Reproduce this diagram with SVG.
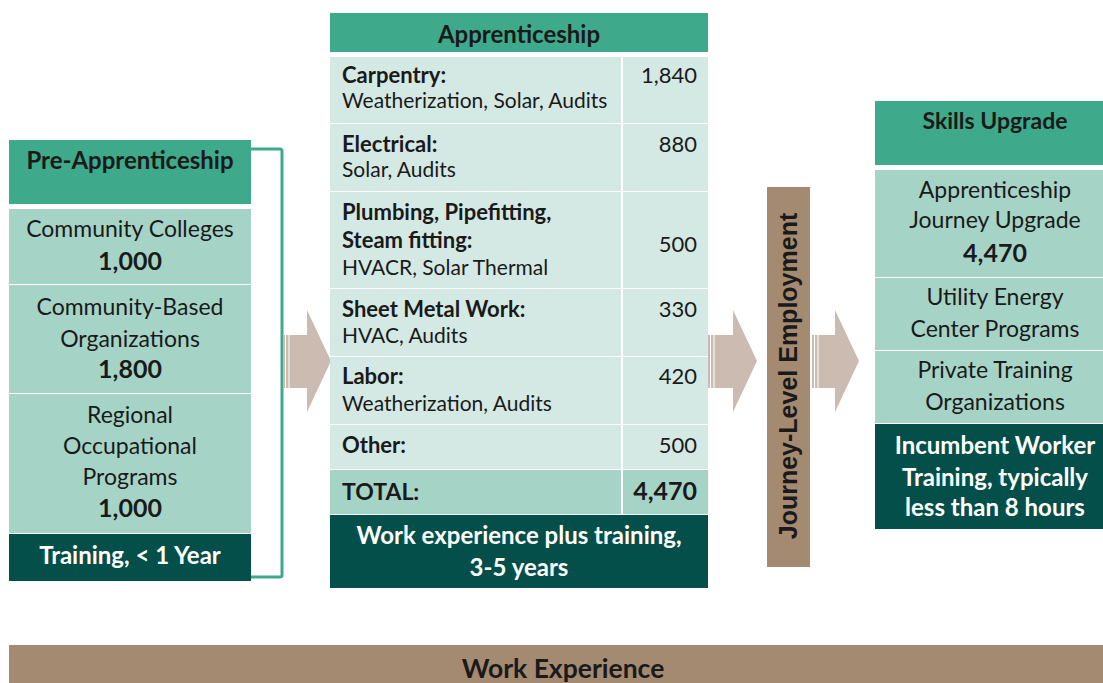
<svg xmlns="http://www.w3.org/2000/svg" width="1103" height="683" viewBox="0 0 1103 683">
<style>
text{font-family:Lato,"Open Sans",sans-serif;fill:#1a1a1a}
.c{text-anchor:middle}
.r{text-anchor:end}
.b{font-weight:bold}
.w{fill:#fff;font-weight:bold}
.s23{font-size:23px}
.s25{font-size:25px}
.s21{font-size:21px}
.s22{font-size:22px}
.s24{font-size:24px}
.hd{fill:#3fa98c}
.lt{fill:#a5d4c7}
.pl{fill:#d4e9e4}
.dk{fill:#044f49}
.br{fill:#a58a72}
.ar{fill:#cbbbb0}
</style>

<!-- flow arrows and bracket -->
<g id="connectors">
  <path d="M251,149 H280 Q282,149 282,151 V575 Q282,577 280,577 H251" fill="none" stroke="#3fa98c" stroke-width="3"/>
  <g class="ar">
    <rect x="283" y="335" width="2" height="53"/>
    <rect x="286" y="335" width="2.5" height="53"/>
    <path d="M289.5,335 H307 V310 L331,361 L307,412 V388 H289.5 Z"/>
    <rect x="708" y="335" width="2" height="53"/>
    <rect x="711" y="335" width="2.5" height="53"/>
    <path d="M714.5,335 H733 V310 L757,361 L733,412 V388 H714.5 Z"/>
    <rect x="812" y="335" width="2" height="53"/>
    <rect x="815" y="335" width="2.5" height="53"/>
    <path d="M818.5,335 H835 V310 L859,361 L835,412 V388 H818.5 Z"/>
  </g>
</g>

<!-- pre-apprenticeship column -->
<g id="pre-apprenticeship">
  <rect class="hd" x="9" y="140" width="242" height="64"/>
  <text class="c b s24" x="130" y="169">Pre-Apprenticeship</text>
  <rect class="lt" x="9" y="209" width="242" height="75"/>
  <text class="c s23" x="130" y="237">Community Colleges</text>
  <text class="c b s25" x="130" y="270">1,000</text>
  <rect class="lt" x="9" y="285" width="242" height="108"/>
  <text class="c s23" x="130" y="315">Community-Based</text>
  <text class="c s23" x="130" y="347">Organizations</text>
  <text class="c b s25" x="130" y="378">1,800</text>
  <rect class="lt" x="9" y="394" width="242" height="139"/>
  <text class="c s23" x="130" y="423">Regional</text>
  <text class="c s23" x="130" y="454">Occupational</text>
  <text class="c s23" x="130" y="485">Programs</text>
  <text class="c b s25" x="130" y="517">1,000</text>
  <rect class="dk" x="9" y="534" width="242" height="47"/>
  <text class="c w s24" x="130" y="564">Training, &lt; 1 Year</text>
</g>

<!-- apprenticeship table -->
<g id="apprenticeship">
  <rect class="hd" x="330" y="13" width="378" height="39"/>
  <text class="c b s24" x="519" y="43">Apprenticeship</text>
  <g class="pl">
    <rect x="330" y="57" width="291" height="66"/><rect x="623" y="57" width="85" height="66"/>
    <rect x="330" y="124" width="291" height="67"/><rect x="623" y="124" width="85" height="67"/>
    <rect x="330" y="192" width="291" height="96"/><rect x="623" y="192" width="85" height="96"/>
    <rect x="330" y="289" width="291" height="67"/><rect x="623" y="289" width="85" height="67"/>
    <rect x="330" y="357" width="291" height="67"/><rect x="623" y="357" width="85" height="67"/>
    <rect x="330" y="425" width="291" height="44"/><rect x="623" y="425" width="85" height="44"/>
  </g>
  <rect class="lt" x="330" y="470" width="291" height="44"/><rect class="lt" x="623" y="470" width="85" height="44"/>
  <rect class="dk" x="330" y="515" width="378" height="73"/>

  <text class="b s22" x="342" y="83">Carpentry:</text>
  <text class="s21" x="342" y="108">Weatherization, Solar, Audits</text>
  <text class="r s22" x="697" y="83">1,840</text>

  <text class="b s22" x="342" y="152">Electrical:</text>
  <text class="s21" x="342" y="177">Solar, Audits</text>
  <text class="r s22" x="697" y="152">880</text>

  <text class="b s22" x="342" y="220">Plumbing, Pipefitting,</text>
  <text class="b s22" x="342" y="248">Steam fitting:</text>
  <text class="s21" x="342" y="275">HVACR, Solar Thermal</text>
  <text class="r s22" x="697" y="252">500</text>

  <text class="b s22" x="342" y="317">Sheet Metal Work:</text>
  <text class="s21" x="342" y="343">HVAC, Audits</text>
  <text class="r s22" x="697" y="317">330</text>

  <text class="b s22" x="342" y="384">Labor:</text>
  <text class="s21" x="342" y="411">Weatherization, Audits</text>
  <text class="r s22" x="697" y="384">420</text>

  <text class="b s22" x="342" y="453">Other:</text>
  <text class="r s22" x="697" y="453">500</text>

  <text class="b s23" x="342" y="500">TOTAL:</text>
  <text class="r b s25" x="697" y="500">4,470</text>

  <text class="c w s24" x="519" y="544">Work experience plus training,</text>
  <text class="c w s24" x="519" y="576">3-5 years</text>
</g>

<!-- journey-level employment bar -->
<g id="journey-level">
  <rect class="br" x="767" y="187" width="43" height="380"/>
  <text class="c" transform="translate(797,376) rotate(-90)" style="font-family:'Liberation Sans',Arial,sans-serif;font-weight:bold;font-size:25px">Journey-Level Employment</text>
</g>

<!-- skills upgrade column -->
<g id="skills-upgrade">
  <rect class="hd" x="875" y="101" width="228" height="64"/>
  <text class="c b s23" x="995" y="129">Skills Upgrade</text>
  <rect class="lt" x="875" y="170" width="228" height="107"/>
  <text class="c s23" x="995" y="198">Apprenticeship</text>
  <text class="c s23" x="995" y="228">Journey Upgrade</text>
  <text class="c b s25" x="995" y="262">4,470</text>
  <rect class="lt" x="875" y="278" width="228" height="72"/>
  <text class="c s23" x="995" y="305">Utility Energy</text>
  <text class="c s23" x="995" y="337">Center Programs</text>
  <rect class="lt" x="875" y="351" width="228" height="72"/>
  <text class="c s23" x="995" y="378">Private Training</text>
  <text class="c s23" x="995" y="410">Organizations</text>
  <rect class="dk" x="875" y="424" width="228" height="105"/>
  <text class="c w s24" x="995" y="454">Incumbent Worker</text>
  <text class="c w s24" x="995" y="486">Training, typically</text>
  <text class="c w s24" x="995" y="516">less than 8 hours</text>
</g>

<!-- work experience band -->
<g id="work-experience">
  <rect class="br" x="9" y="645" width="1094" height="38"/>
  <text class="c b" x="563" y="678" style="font-size:26.5px">Work Experience</text>
</g>
</svg>
